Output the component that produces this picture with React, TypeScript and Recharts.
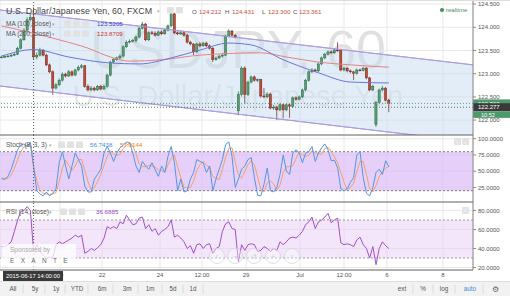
import React from 'react';
import {
  ComposedChart, Bar, Line, Area, XAxis, YAxis, CartesianGrid, ReferenceLine, ReferenceArea,
} from 'recharts';

const FONT = '"Liberation Sans", Arial, Helvetica, sans-serif';

// ---------- price (hourly candles) ----------
const open = [
  123.35, 123.36, 123.37, 123.38, 123.40, 123.42, 123.55, 123.73, 123.94, 124.16,
  124.212, 123.36, 123.40, 123.51, 123.40, 123.19, 123.04, 122.69, 122.76, 122.86,
  122.99, 122.95, 123.04, 122.97, 123.08, 123.14, 123.17, 122.73, 122.65, 122.69,
  122.65, 122.73, 122.67, 122.73, 122.97, 123.25, 123.30, 123.34, 123.38, 123.58,
  123.68, 123.70, 123.71, 123.79, 123.98, 124.07, 123.73, 123.88, 123.87, 123.83,
  123.90, 123.86, 123.94, 124.03, 124.29, 123.88, 123.86, 123.88, 123.83, 123.68,
  123.64, 123.47, 123.64, 123.60, 123.66, 123.60, 123.55, 123.30, 123.34, 123.38,
  123.40, 123.81, 123.92, 123.83, 122.20, 122.55, 123.12, 122.55, 122.82, 122.93,
  122.86, 122.87, 122.52, 122.50, 122.56, 122.26, 122.28, 122.22, 122.33, 122.22,
  122.33, 122.30, 122.48, 122.45, 122.50, 122.65, 122.86, 123.04, 123.08, 123.06,
  123.21, 123.34, 123.42, 123.47, 123.45, 123.51, 123.50, 123.08, 123.12, 123.06,
  123.04, 123.01, 123.08, 123.07, 123.12, 122.91, 122.65, 121.90, 122.38, 122.65,
  122.69, 122.43,
];
const high = [
  123.39, 123.40, 123.41, 123.43, 123.45, 123.58, 123.76, 123.98, 124.22, 124.30,
  124.431, 123.46, 123.56, 123.53, 123.43, 123.22, 123.07, 122.80, 122.90, 123.03,
  123.02, 123.08, 123.07, 123.11, 123.18, 123.21, 123.19, 122.77, 122.73, 122.72,
  122.76, 122.76, 122.77, 123.00, 123.28, 123.34, 123.37, 123.42, 123.61, 123.72,
  123.74, 123.75, 123.82, 124.01, 124.12, 124.09, 123.91, 123.92, 123.91, 123.93,
  123.93, 123.97, 124.06, 124.35, 124.31, 123.91, 123.91, 123.90, 123.86, 123.71,
  123.66, 123.67, 123.68, 123.69, 123.69, 123.63, 123.57, 123.37, 123.41, 123.43,
  123.84, 123.96, 123.94, 123.86, 122.62, 123.16, 123.16, 122.85, 122.96, 122.96,
  122.90, 122.89, 122.69, 122.60, 122.59, 122.32, 122.31, 122.36, 122.35, 122.36,
  122.36, 122.51, 122.51, 122.53, 122.68, 122.89, 123.07, 123.12, 123.11, 123.24,
  123.37, 123.45, 123.50, 123.50, 123.54, 123.68, 123.54, 123.15, 123.14, 123.09,
  123.06, 123.11, 123.11, 123.15, 123.14, 122.93, 122.76, 122.42, 122.68, 122.74,
  122.71, 122.46,
];
const low = [
  123.33, 123.34, 123.35, 123.36, 123.38, 123.40, 123.52, 123.71, 123.91, 124.13,
  123.300, 123.31, 123.37, 123.37, 123.16, 123.01, 122.54, 122.66, 122.73, 122.83,
  122.92, 122.93, 122.94, 122.95, 123.05, 123.11, 122.70, 122.62, 122.62, 122.62,
  122.63, 122.64, 122.65, 122.70, 122.94, 123.22, 123.27, 123.31, 123.35, 123.55,
  123.65, 123.67, 123.67, 123.76, 123.95, 123.70, 123.70, 123.84, 123.80, 123.81,
  123.83, 123.84, 123.91, 124.00, 123.85, 123.83, 123.83, 123.80, 123.65, 123.61,
  123.40, 123.45, 123.57, 123.58, 123.57, 123.52, 123.25, 123.28, 123.31, 123.35,
  123.38, 123.78, 123.80, 123.76, 122.10, 122.51, 122.35, 122.52, 122.79, 122.83,
  122.82, 122.48, 122.47, 122.47, 122.23, 122.22, 122.00, 122.19, 122.04, 122.19,
  122.05, 122.27, 122.42, 122.42, 122.47, 122.62, 122.83, 123.01, 123.03, 123.03,
  123.18, 123.31, 123.39, 123.42, 123.42, 123.47, 123.05, 123.05, 123.03, 123.01,
  122.86, 122.98, 123.05, 123.05, 122.88, 122.62, 122.62, 121.85, 122.35, 122.62,
  122.40, 122.17,
];
const close = [
  123.36, 123.37, 123.38, 123.40, 123.42, 123.55, 123.73, 123.94, 124.16, 124.21,
  123.361, 123.40, 123.51, 123.40, 123.19, 123.04, 122.69, 122.76, 122.86, 122.99,
  122.95, 123.04, 122.97, 123.08, 123.14, 123.17, 122.73, 122.65, 122.69, 122.65,
  122.73, 122.67, 122.73, 122.97, 123.25, 123.30, 123.34, 123.38, 123.58, 123.68,
  123.70, 123.71, 123.79, 123.98, 124.07, 123.73, 123.88, 123.87, 123.83, 123.90,
  123.86, 123.94, 124.03, 124.29, 123.88, 123.86, 123.88, 123.83, 123.68, 123.64,
  123.47, 123.64, 123.60, 123.66, 123.60, 123.55, 123.30, 123.34, 123.38, 123.40,
  123.81, 123.92, 123.83, 123.79, 122.55, 123.12, 122.55, 122.82, 122.93, 122.86,
  122.87, 122.52, 122.50, 122.56, 122.26, 122.28, 122.22, 122.33, 122.22, 122.33,
  122.30, 122.48, 122.45, 122.50, 122.65, 122.86, 123.04, 123.08, 123.06, 123.21,
  123.34, 123.42, 123.47, 123.45, 123.51, 123.50, 123.08, 123.12, 123.06, 123.04,
  123.01, 123.08, 123.07, 123.12, 122.91, 122.65, 122.73, 122.38, 122.65, 122.69,
  122.43, 122.36,
];

// ---------- Stochastic (8,3,3) ----------
const stochK = [
  38, 38, 42, 53, 68, 83, 90, 92, 88, 94,
  56.74, 20, 15, 12, 18, 12, 16, 23, 63, 80,
  58, 38, 58, 78, 68, 58, 27, 18, 18, 38,
  45, 53, 78, 88, 78, 65, 78, 86, 90, 95,
  94, 78, 58, 48, 65, 58, 53, 63, 52, 42,
  58, 48, 73, 88, 63, 20, 38, 18, 20, 38,
  48, 68, 65, 63, 48, 58, 20, 38, 53, 68,
  91, 95, 73, 25, 38, 53, 58, 68, 71, 40,
  13, 12, 30, 55, 20, 18, 25, 45, 75, 50,
  45, 78, 83, 78, 63, 78, 80, 88, 65, 78,
  86, 92, 83, 66, 67, 55, 23, 20, 23, 33,
  40, 75, 80, 40, 16, 12, 25, 48, 53, 45,
  66, 57,
];
const stochD = [
  40, 38, 39, 44, 54, 68, 80, 88, 90, 91,
  57.01, 35, 20, 16, 15, 14, 15, 17, 34, 55,
  67, 59, 51, 58, 68, 68, 51, 34, 21, 25,
  34, 45, 59, 73, 81, 77, 74, 76, 85, 90,
  93, 89, 77, 61, 57, 57, 59, 58, 56, 52,
  51, 49, 60, 70, 75, 57, 40, 25, 25, 25,
  35, 51, 60, 65, 59, 56, 42, 39, 37, 53,
  71, 85, 86, 64, 45, 39, 50, 60, 66, 60,
  41, 22, 18, 32, 35, 31, 21, 29, 48, 57,
  57, 58, 69, 80, 75, 73, 74, 82, 78, 77,
  76, 85, 87, 80, 72, 63, 48, 33, 22, 25,
  32, 49, 65, 65, 45, 23, 18, 28, 42, 49,
  55, 57,
];

// ---------- RSI (14, close) ----------
const rsi = [
  42, 42, 44, 47, 58, 70, 79, 80, 84, 80,
  36.69, 44, 37, 33, 30, 31, 30, 44, 47, 45,
  47, 49, 51, 54, 52, 54, 35, 37, 40, 38,
  41, 44, 51, 63, 61, 63, 61, 68, 66, 75,
  70, 65, 66, 72, 73, 61, 65, 58, 61, 54,
  58, 60, 63, 70, 52, 54, 51, 47, 40, 43,
  35, 44, 45, 40, 44, 45, 35, 40, 42, 58,
  66, 68, 61, 60, 26, 44, 38, 44, 45, 44,
  37, 38, 42, 40, 37, 40, 38, 47, 44, 47,
  51, 52, 51, 54, 58, 65, 68, 73, 61, 68,
  70, 73, 77, 67, 70, 72, 46, 44, 45, 44,
  42, 49, 52, 44, 40, 30, 42, 23, 40, 47,
  43, 40,
];

// ---------- moving averages (read at sample candles) ----------
const ma100Idx = [0, 10, 21, 34, 43, 53, 62, 71, 78, 88, 99, 109, 121];
const ma100 = [123.38, 123.52, 123.36, 123.23, 123.21, 123.34, 123.51, 123.66, 123.62, 123.30, 123.02, 122.82, 122.80];
const ma200Idx = [0, 10, 18, 27, 34, 40, 50, 62, 81, 89, 99, 109, 121];
const ma200 = [124.03, 123.87, 123.73, 123.55, 123.36, 123.27, 123.30, 123.40, 123.45, 123.36, 123.25, 123.19, 123.14];

// ---------- trend channel ----------
const channelIdx = [-0.5, 147.3];
const channelUpper = [124.373, 123.19];
const channelLower = [122.735, 121.528];

// ---------- axes ----------
const priceTicks = [122, 122.5, 123, 123.5, 124, 124.5];
const stochTicks = [25, 50, 75, 100];
const rsiTicks = [20, 40, 60, 80];
const xTickIdx = [18.25, 31.4, 49.5, 62.6, 76.4, 93.25, 107, 120.4, 137.9];
const xTickLabels = ['19', '22', '24', '12:00', '29', 'Jul', '12:00', '6', '8'];

const lastPrice = 122.36;
const crossPrice = 122.277;
const crossIdx = 10;

const X_DOMAIN: [number, number] = [-0.5, 147.3];
const PRICE_DOMAIN: [number, number] = [121.679, 124.588];
const STOCH_DOMAIN: [number, number] = [2.6, 105.7];
const RSI_DOMAIN: [number, number] = [17.4, 88.9];

const candles = close.map((c, i) => ({
  i, o: open[i], h: high[i], l: low[i], c, k: stochK[i], d: stochD[i], r: rsi[i],
}));
const ma100Data = ma100Idx.map((i, n) => ({ i, v: ma100[n] }));
const ma200Data = ma200Idx.map((i, n) => ({ i, v: ma200[n] }));
const channelData = channelIdx.map((i, n) => ({ i, hi: channelUpper[n], lo: channelLower[n] }));

const tickStyle = { fontSize: 6, fill: '#555', fontFamily: FONT };
const M0 = { top: 0, right: 0, bottom: 0, left: 0 };
const CHANNEL = '#ab9ddf';

const Candle = (p: any) => {
  const { x, y, width, height, payload } = p;
  if (!payload || height == null || isNaN(y)) return null;
  const { o, h, l, c } = payload;
  const ppu = h > l ? height / (h - l) : 0;
  const cx = x + width / 2;
  const top = y + (h - Math.max(o, c)) * ppu;
  const bh = Math.max(Math.abs(o - c) * ppu, 0.8);
  const up = c >= o;
  return (
    <g>
      <line x1={cx} x2={cx} y1={y} y2={y + height} stroke={up ? '#3a7550' : '#74352a'} strokeWidth={0.75} />
      <rect x={cx - 1.1} y={top} width={2.2} height={bh}
        fill={up ? '#55a06f' : '#bf4a36'} stroke={up ? '#2a5e3e' : '#642318'} strokeWidth={0.45} />
    </g>
  );
};

const LastTag = (props: any) => {
  const vb = props.viewBox;
  if (!vb) return null;
  const x = vb.x + vb.width;
  const y = vb.y;
  return (
    <g>
      <rect x={x} y={y - 4} width={37} height={8} fill="#4c9a6a" />
      <text x={x + 5} y={y + 2.2} fontSize={6} fill="#fff" fontFamily={FONT}>{lastPrice.toFixed(3)}</text>
      <rect x={x} y={y + 8} width={37} height={6.5} fill="#4c9a6a" />
      <text x={x + 8} y={y + 13.3} fontSize={5.5} fill="#fff" fontFamily={FONT}>10:52</text>
    </g>
  );
};
const CrossTag = (props: any) => {
  const vb = props.viewBox;
  if (!vb) return null;
  const x = vb.x + vb.width;
  const y = vb.y;
  return (
    <g>
      <rect x={x} y={y - 4} width={37} height={8} fill="#3a3a3a" />
      <text x={x + 5} y={y + 2.2} fontSize={6} fill="#fff" fontFamily={FONT}>{crossPrice.toFixed(3)}</text>
    </g>
  );
};

const IconBoxes = ({ x, y, n }: { x: number; y: number; n: number }) => (
  <g>
    {Array.from({ length: n }).map((_, k) => (
      <rect key={k} x={x + k * 9} y={y} width={7} height={6.5} rx={1} fill="#e2e2e2" />
    ))}
  </g>
);

export default function App() {
  return (
    <div style={{ position: 'absolute', left: 0, top: 0, width: 510, height: 296, background: '#fff', overflow: 'hidden', fontFamily: FONT }}>
      {/* watermark */}
      <svg width={473} height={135} style={{ position: 'absolute', left: 0, top: 0 }}>
        <text x={238} y={68} textAnchor="middle" fontSize={54} fill="#000" fillOpacity={0.12} fontFamily={FONT}>USDJPY, 60</text>
        <text x={238} y={106} textAnchor="middle" fontSize={29} fill="#000" fillOpacity={0.1} fontFamily={FONT}>U.S. Dollar/Japanese Yen</text>
      </svg>

      {/* price panel */}
      <div style={{ position: 'absolute', left: 0, top: 0 }}>
        <ComposedChart width={510} height={135} data={candles} margin={M0}>
          <CartesianGrid stroke="#e8e8e8" />
          <XAxis type="number" dataKey="i" domain={X_DOMAIN} ticks={xTickIdx} allowDataOverflow hide />
          <YAxis orientation="right" width={37} domain={PRICE_DOMAIN} ticks={priceTicks} allowDataOverflow interval={0}
            tickFormatter={(v: number) => v.toFixed(3)} tick={tickStyle} tickSize={3} tickMargin={2} stroke="#8a8a8a" />
          <Area data={channelData} dataKey={(d: any) => [d.lo, d.hi]} type="linear" stroke={CHANNEL} strokeWidth={1} fill="#c8dcf2" fillOpacity={0.5} activeDot={false} dot={false} isAnimationActive={false} />
          <Line data={channelData} dataKey="hi" type="linear" stroke={CHANNEL} strokeWidth={1} dot={false} activeDot={false} isAnimationActive={false} />
          <Line data={channelData} dataKey="lo" type="linear" stroke={CHANNEL} strokeWidth={1} dot={false} activeDot={false} isAnimationActive={false} />
          <Line data={ma200Data} dataKey="v" type="monotone" stroke="#e68282" strokeWidth={1} dot={false} activeDot={false} isAnimationActive={false} />
          <Line data={ma100Data} dataKey="v" type="monotone" stroke="#6876dc" strokeWidth={1} dot={false} activeDot={false} isAnimationActive={false} />
          <Bar dataKey={(d: any) => [d.l, d.h]} barSize={2} shape={(p: any) => <Candle {...p} />} isAnimationActive={false} />
          <ReferenceLine x={crossIdx} stroke="#555" strokeDasharray="1 2" />
          <ReferenceLine y={lastPrice} stroke="#5aa57a" strokeDasharray="1 2" label={(p: any) => <LastTag {...p} />} />
          <ReferenceLine y={crossPrice} stroke="#666" strokeDasharray="1 2" label={(p: any) => <CrossTag {...p} />} />
        </ComposedChart>
      </div>

      {/* stochastic panel */}
      <div style={{ position: 'absolute', left: 0, top: 135 }}>
        <ComposedChart width={510} height={67} data={candles} margin={M0}>
          <CartesianGrid stroke="#e8e8e8" />
          <XAxis type="number" dataKey="i" domain={X_DOMAIN} ticks={xTickIdx} allowDataOverflow hide />
          <YAxis orientation="right" width={37} domain={STOCH_DOMAIN} ticks={stochTicks} allowDataOverflow interval={0}
            tickFormatter={(v: number) => v.toFixed(4)} tick={tickStyle} tickSize={3} tickMargin={2} stroke="#8a8a8a" />
          <ReferenceArea y1={20} y2={80} fill="#dcbcf7" fillOpacity={0.7} stroke="none" />
          <ReferenceLine y={80} stroke="#7d7d7d" strokeDasharray="2 2" />
          <ReferenceLine y={20} stroke="#7d7d7d" strokeDasharray="2 2" />
          <Line dataKey="d" type="linear" stroke="#f2a268" strokeWidth={1} dot={false} activeDot={false} isAnimationActive={false} />
          <Line dataKey="k" type="linear" stroke="#5596e2" strokeWidth={1} dot={false} activeDot={false} isAnimationActive={false} />
          <ReferenceLine x={crossIdx} stroke="#555" strokeDasharray="1 2" />
        </ComposedChart>
      </div>

      {/* RSI panel + time axis */}
      <div style={{ position: 'absolute', left: 0, top: 202 }}>
        <ComposedChart width={510} height={78} data={candles} margin={M0}>
          <CartesianGrid stroke="#e8e8e8" />
          <XAxis type="number" dataKey="i" domain={X_DOMAIN} ticks={xTickIdx} allowDataOverflow interval={0} height={10}
            tickSize={0} tickMargin={3} tick={tickStyle} stroke="#6a6a6a"
            tickFormatter={(v: number) => xTickLabels[xTickIdx.indexOf(v)] ?? ''} />
          <YAxis orientation="right" width={37} domain={RSI_DOMAIN} ticks={rsiTicks} allowDataOverflow interval={0}
            tickFormatter={(v: number) => v.toFixed(4)} tick={tickStyle} tickSize={3} tickMargin={2} stroke="#8a8a8a" />
          <ReferenceArea y1={30} y2={70} fill="#e7cdf7" fillOpacity={0.5} stroke="none" />
          <ReferenceLine y={70} stroke="#9a9a9a" strokeDasharray="2 2" />
          <ReferenceLine y={30} stroke="#9a9a9a" strokeDasharray="2 2" />
          <Line dataKey="r" type="linear" stroke="#a050cc" strokeWidth={1} dot={false} activeDot={false} isAnimationActive={false} />
          <ReferenceLine x={crossIdx} stroke="#555" strokeDasharray="1 2" />
        </ComposedChart>
      </div>

      {/* overlay: legends, separators, toolbar */}
      <svg width={510} height={296} style={{ position: 'absolute', left: 0, top: 0, pointerEvents: 'none' }} fontFamily={FONT}>
        <line x1={0} x2={510} y1={0.5} y2={0.5} stroke="#dcdcdc" />
        <line x1={0} x2={473} y1={135} y2={135} stroke="#6a6a6a" strokeWidth={1.2} />
        <line x1={0} x2={473} y1={202} y2={202} stroke="#6a6a6a" strokeWidth={1.2} />

        <text x={6} y={14} fontSize={8.9} fill="#454545">U.S. Dollar/Japanese Yen, 60, FXCM</text>
        <text x={157} y={13} fontSize={5} fill="#aaa">▾</text>
        <IconBoxes x={167} y={7} n={2} />
        <text y={14} fontSize={6.2}>
          <tspan x={192} fill="#555">O</tspan><tspan x={199} fill="#c8503c">124.212</tspan>
          <tspan x={225} fill="#555">H</tspan><tspan x={232} fill="#c8503c">124.431</tspan>
          <tspan x={262} fill="#555">L</tspan><tspan x={268} fill="#c8503c">123.300</tspan>
          <tspan x={293} fill="#555">C</tspan><tspan x={299} fill="#c8503c">123.361</tspan>
        </text>
        <text x={6} y={26} fontSize={6.5} fill="#555">MA (100, close)</text>
        <text x={52} y={25.5} fontSize={4.5} fill="#aaa">▾</text>
        <IconBoxes x={64} y={20.5} n={3} />
        <text x={97} y={26} fontSize={6.2} fill="#3b3bd1">123.5205</text>
        <text x={6} y={36} fontSize={6.5} fill="#555">MA (200, close)</text>
        <text x={52} y={35.5} fontSize={4.5} fill="#aaa">▾</text>
        <IconBoxes x={64} y={30.5} n={3} />
        <text x={97} y={36} fontSize={6.2} fill="#d0342c">123.8709</text>

        <circle cx={442} cy={10} r={2} fill="#3d8f5a" />
        <text x={446} y={12} fontSize={6} fill="#4a8a63">realtime</text>

        <text x={6} y={147} fontSize={6.5} fill="#555">Stoch (8, 3, 3)</text>
        <text x={49} y={146.5} fontSize={4.5} fill="#aaa">▾</text>
        <IconBoxes x={58} y={141.5} n={3} />
        <text x={90} y={147} fontSize={6.2} fill="#3d8ee0">56.7438</text>
        <text x={120} y={147} fontSize={6.2} fill="#f07c22">57.0144</text>
        <rect x={454} y={138} width={7} height={7} rx={1} fill="#e3e3e3" />
        <rect x={462} y={138} width={7} height={7} rx={1} fill="#e3e3e3" />
        <text x={455.8} y={143.8} fontSize={5} fill="#fff">↑</text>
        <text x={463.8} y={143.8} fontSize={5} fill="#fff">↓</text>

        <text x={6} y={214} fontSize={6.5} fill="#555">RSI (14, close)</text>
        <text x={49} y={213.5} fontSize={4.5} fill="#aaa">▾</text>
        <IconBoxes x={60} y={208.5} n={3} />
        <text x={96} y={214} fontSize={6.2} fill="#9a3fc4">36.6885</text>
        <rect x={462} y={207} width={7} height={7} rx={1} fill="#e3e3e3" />
        <text x={463.8} y={212.8} fontSize={5} fill="#fff">↑</text>

        <rect x={2} y={244} width={74} height={23} fill="#fff" fillOpacity={0.75} />
        <text x={10} y={252} fontSize={6.5} fill="#aaa">Sponsored by</text>
        <text x={10} y={262.5} fontSize={6.5} fill="#666" letterSpacing={6.3}>EXANTE</text>

        {[217, 235, 254, 273, 292].map((cx, k) => (
          <g key={k}>
            <circle cx={cx} cy={256} r={7.5} fill="#fff" fillOpacity={0.35} stroke="#d6d6d6" strokeWidth={0.8} />
            <text x={cx} y={258.5} fontSize={7} textAnchor="middle" fill="#cfcfcf">{['‹', '−', '↺', '+', '›'][k]}</text>
          </g>
        ))}

        <rect x={3} y={271} width={60} height={10} fill="#3a3a3a" />
        <text x={33} y={278.3} fontSize={5.8} textAnchor="middle" fill="#fff">2015-06-17 14:00:00</text>

        <rect x={0} y={281.5} width={510} height={14.5} fill="#f2f2f2" />
        <line x1={0} x2={510} y1={281.5} y2={281.5} stroke="#dedede" />
        {[['All', 13], ['5y', 35], ['1y', 56], ['YTD', 77], ['6m', 102], ['3m', 127], ['1m', 150], ['5d', 173], ['1d', 193]].map(([t, x], k) => (
          <text key={k} x={x as number} y={291} fontSize={6.3} textAnchor="middle" fill="#555">{t}</text>
        ))}
        {[23, 45, 65, 88, 113, 138, 162, 183, 203, 413, 433, 455, 483].map((x, k) => (
          <line key={k} x1={x} x2={x} y1={284.5} y2={293.5} stroke="#dadada" />
        ))}
        <text x={402} y={291} fontSize={6.3} textAnchor="middle" fill="#555">ext</text>
        <text x={423} y={291} fontSize={6.3} textAnchor="middle" fill="#555">%</text>
        <text x={444} y={291} fontSize={6.3} textAnchor="middle" fill="#555">log</text>
        <text x={470} y={291} fontSize={6.3} textAnchor="middle" fill="#3d8ad0">auto</text>
        <text x={495} y={291.5} fontSize={7.5} textAnchor="middle" fill="#666">⚙</text>
      </svg>
    </div>
  );
}
